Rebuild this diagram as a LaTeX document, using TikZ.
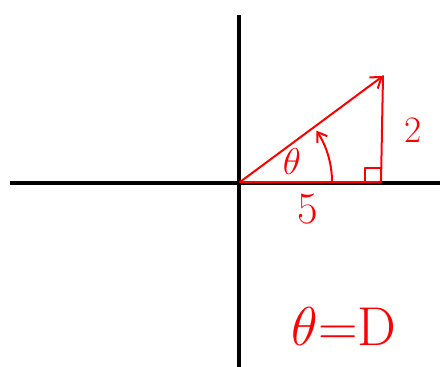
\documentclass[tikz,border=0pt]{standalone}
\usepackage{amsmath}
\usetikzlibrary{arrows.meta, calc}

\begin{document}
\begin{tikzpicture}[x=1pt, y=-1pt, >=Stealth,
  axis/.style={line width=4pt},
  hand/.style={red, line width=2pt, line cap=round, line join=round},
  lbl/.style={red, inner sep=0pt, font=\Huge}]
\useasboundingbox (0,0) rectangle (440,367);
\def\ang{34}
% the two axes
\coordinate (xl) at (10,183);
\coordinate (xr) at (440,183);
\coordinate (yt) at (239,15);
\coordinate (yb) at (239,367);
\draw[axis] (xl) -- (xr);
\draw[axis] (yt) -- (yb);
% the right triangle with legs 5 and 2
\coordinate (O) at (240,182);
\coordinate (F) at (381,182);
\coordinate (P) at (383,76);
\draw[hand] (O) -- (F) -- (P);
\draw[hand, -{Straight Barb[length=10pt, width=14pt]}] (O) -- (P);
\draw[hand] ($(F)+(-16,0)$) -- ++(0,-14) -- ++(16,0);
% the angle theta
\draw[hand, -{Straight Barb[length=9pt, width=12pt]}] ($(O)+(92,0)$) arc (0:-\ang:92);
\node[lbl, scale=1.5] (th) at (292,162) {$\theta$};
\node[lbl, scale=1.5] (two) at (413,130) {2};
\node[lbl, scale=1.8] (five) at (308,209) {5};
\node[lbl, scale=2.2] (res) at (344,326) {$\theta{=}\mathrm{D}$};
\end{tikzpicture}
\end{document}
